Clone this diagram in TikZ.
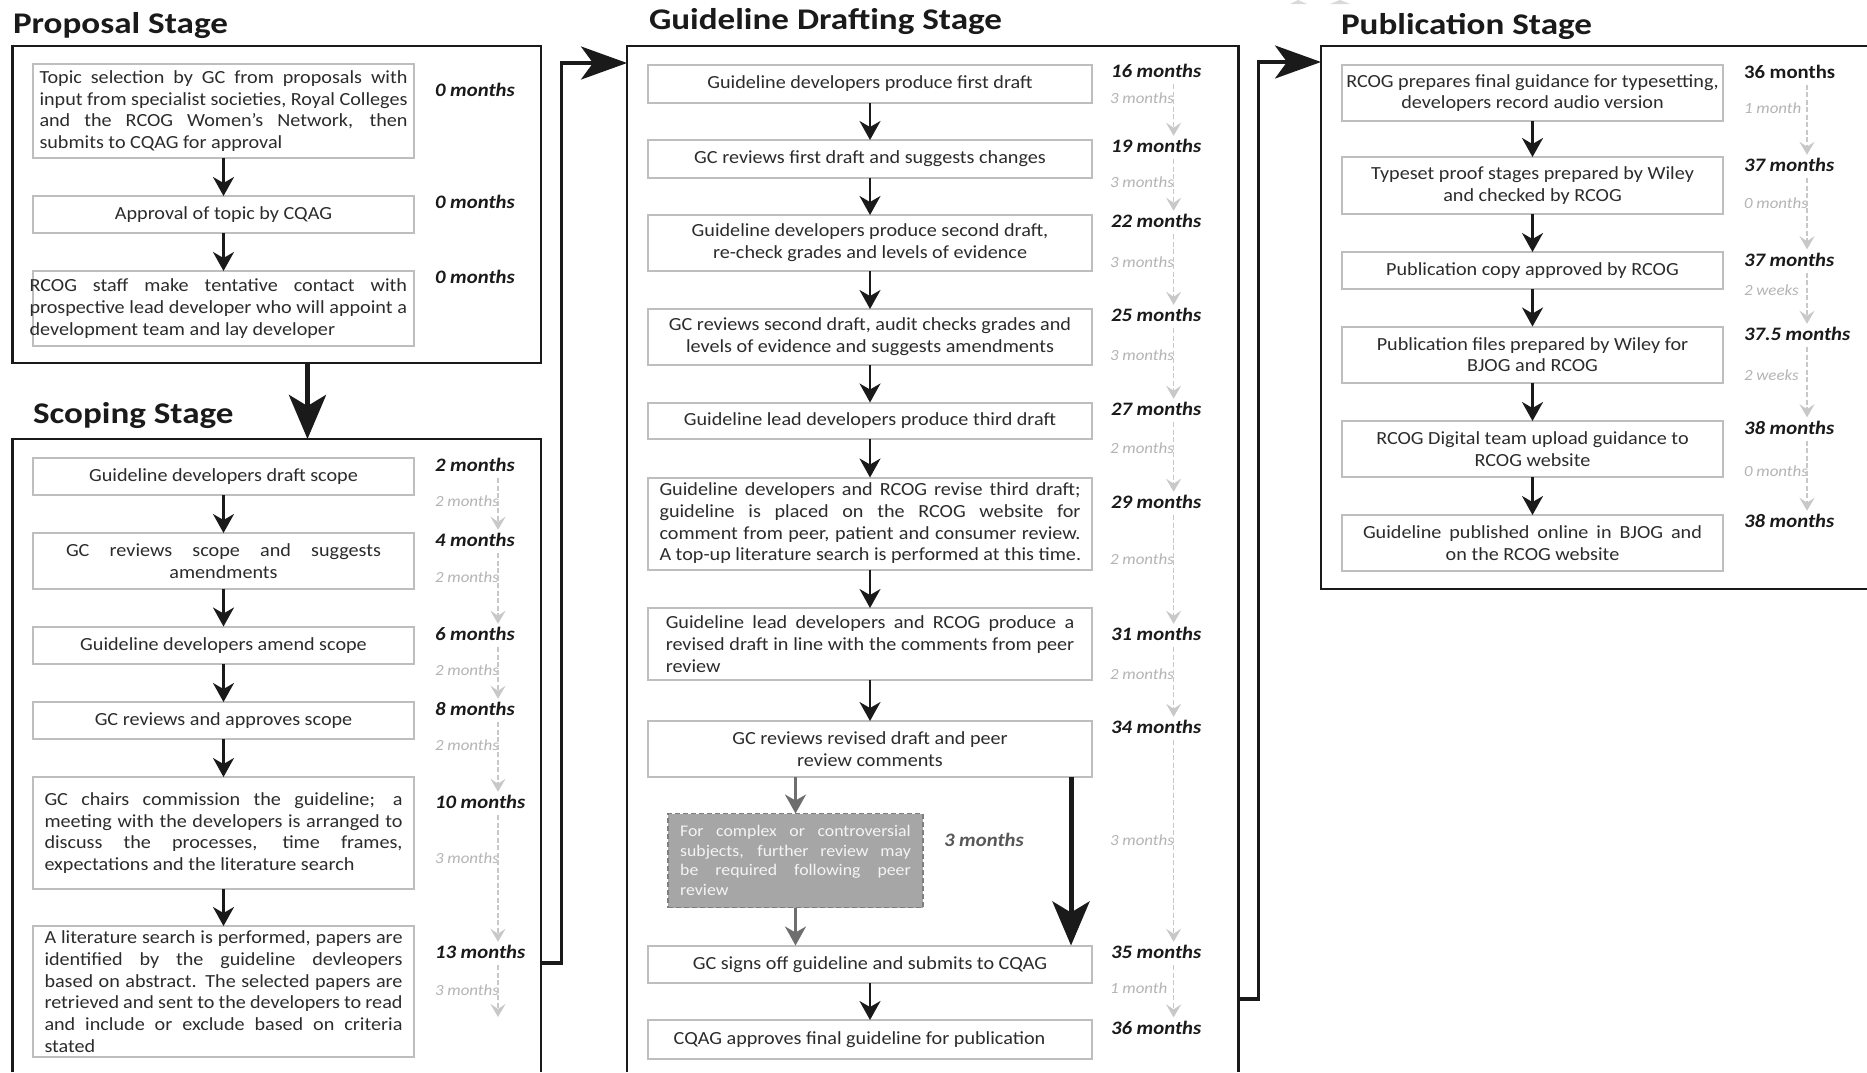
\documentclass[tikz,border=0pt]{standalone}
\usepackage{fontspec}
\setmainfont{Carlito}[FakeStretch=1.09]
\newfontfamily\titlefont{Carlito}[FakeStretch=1.17]
\usetikzlibrary{arrows.meta,calc}
\definecolor{boxline}{HTML}{BEBEBE}
\definecolor{txt}{HTML}{2C2C2C}
\definecolor{graylbl}{HTML}{B4B4B4}
\definecolor{dashc}{HTML}{C8C8C8}
\definecolor{greyfill}{HTML}{A6A6A6}
\definecolor{greyedge}{HTML}{7E7E7E}
\definecolor{greyarrow}{HTML}{6E6E6E}
\definecolor{greytext}{HTML}{F4F4F4}
\definecolor{midlbl}{HTML}{585858}
\definecolor{ink}{HTML}{1A1A1A}
\newcommand\jline[2]{\makebox[#1pt][s]{#2}}
\newcommand\lline[2]{\makebox[#1pt][l]{#2}}
\begin{document}
\begin{tikzpicture}[x=1pt,y=-1pt,
  every node/.style={inner sep=0pt,outer sep=0pt},
  bx/.style={draw=boxline,line width=2pt,fill=white,text=txt,align=center,
    font=\fontsize{18.5}{21.7}\selectfont},
  bxtext/.style={text=txt,align=center,font=\fontsize{18.5}{21.7}\selectfont},
  gbox/.style={draw=greyedge,line width=1.8pt,dash pattern=on 5pt off 3pt,fill=greyfill,
    text=greytext,align=center,font=\fontsize{16.3}{19.7}\selectfont},
  stagebox/.style={draw=ink,line width=2.6pt},
  stageline/.style={draw=ink,line width=2.6pt},
  ttl/.style={anchor=base west,text=ink,font=\titlefont\fontsize{30}{32}\selectfont\bfseries},
  mo/.style={anchor=west,text=ink,font=\fontsize{19}{22}\selectfont\bfseries\itshape},
  moup/.style={anchor=west,text=ink,font=\fontsize{19}{22}\selectfont\bfseries},
  gm/.style={anchor=west,text=graylbl,font=\fontsize{15.5}{17}\selectfont\itshape},
  arr/.style={draw=ink,line width=2.3pt,-{Stealth[length=19pt,width=21pt,inset=6pt]}},
  garr/.style={draw=greyarrow,line width=2.3pt,-{Stealth[length=19pt,width=21pt,inset=6pt]}},
  darr/.style={draw=dashc,line width=1.6pt,dash pattern=on 5pt off 2.5pt,
    -{Stealth[length=13pt,width=15pt,inset=5pt]}},
  bigarr/.style={draw=ink,line width=5pt,-{Stealth[length=44pt,width=37pt,inset=11pt]}},
  conn/.style={draw=ink,line width=3.5pt,-{Stealth[length=46pt,width=33pt,inset=12pt]}}
]
\useasboundingbox[fill=white] (0,0) rectangle (1867,1072);

% small artefact at the top
\fill[gray!30] (1290,4) -- (1298,0) -- (1307,4) -- cycle;
\fill[gray!30] (1330,4) -- (1340,0) -- (1350,4) -- cycle;

% ---------- stage frames and titles ----------
\node[stagebox,minimum width=528.5pt,minimum height=317pt] (prop) at (276.75,204.5) {};
\draw[stageline] (12.5,1072) -- (12.5,439) -- (541,439) -- (541,1072);
\draw[stageline] (627,1072) -- (627,46) -- (1238.5,46) -- (1238.5,1072);
\draw[stageline] (1867,46) -- (1321,46) -- (1321,589) -- (1867,589);

\node[ttl] (tprop) at (13,33) {Proposal Stage};
\node[ttl] (tscope) at (33,423) {Scoping Stage};
\node[ttl] (tdraft) at (649,29.5) {Guideline Drafting Stage};
\node[ttl] (tpub) at (1341,34) {Publication Stage};

% ---------- Proposal stage ----------
\node[bx,minimum width=381pt,minimum height=94pt] (p1) at (223.5,111)
  {\jline{368}{Topic selection by GC from proposals with}\\
   \jline{368}{input from specialist societies, Royal Colleges}\\
   \jline{368}{and the RCOG Women’s Network, then}\\
   \lline{368}{submits to CQAG for approval}};
\node[bx,minimum width=381pt,minimum height=37pt] (p2) at (223.5,214.5) {Approval of topic by CQAG};
\node[bx,minimum width=381pt,minimum height=75pt] (p3) at (223.5,308.5) {};
\node[bxtext] (p3t) at (218.3,308.5)
  {\jline{377.5}{RCOG staff make tentative contact with}\\
   \jline{377.5}{prospective lead developer who will appoint a}\\
   \lline{377.5}{development team and lay developer}};
\draw[arr] (p1) -- (p2);
\draw[arr] (p2) -- (p3);
\node[mo] (pm1) at (435,90) {0 months};
\node[mo] (pm2) at (435,202) {0 months};
\node[mo] (pm3) at (435,277) {0 months};

% ---------- Scoping stage ----------
\node[bx,minimum width=381pt,minimum height=37pt] (s1) at (223.5,476.5) {Guideline developers draft scope};
\node[bx,minimum width=381pt,minimum height=56pt] (s2) at (223.5,561)
  {\jline{315}{GC reviews scope and suggests}\\ amendments};
\node[bx,minimum width=381pt,minimum height=37.5pt] (s3) at (223.5,645.25) {Guideline developers amend scope};
\node[bx,minimum width=381pt,minimum height=37pt] (s4) at (223.5,720.5) {GC reviews and approves scope};
\node[bx,minimum width=381pt,minimum height=112pt] (s5) at (223.5,833)
  {\jline{358}{GC chairs commission the guideline; a}\\
   \jline{358}{meeting with the developers is arranged to}\\
   \jline{358}{discuss the processes, time frames,}\\
   \lline{358}{expectations and the literature search}};
\node[bx,minimum width=381pt,minimum height=131pt] (s6) at (223.5,991.5)
  {\jline{358}{A literature search is performed, papers are}\\
   \jline{358}{identified by the guideline devleopers}\\
   \jline{358}{based on abstract. The selected papers are}\\
   \jline{358}{retrieved and sent to the developers to read}\\
   \jline{358}{and include or exclude based on criteria}\\
   \lline{358}{stated}};
\draw[arr] (s1) -- (s2);
\draw[arr] (s2) -- (s3);
\draw[arr] (s3) -- (s4);
\draw[arr] (s4) -- (s5);
\draw[arr] (s5) -- (s6);

\node[mo] (sm1) at (435,465) {2 months};
\node[mo] (sm2) at (435,540) {4 months};
\node[mo] (sm3) at (435,634) {6 months};
\node[mo] (sm4) at (435,709) {8 months};
\node[mo] (sm5) at (435,802) {10 months};
\node[mo] (sm6) at (435,952) {13 months};
\node[gm] (sg1) at (435,501) {2 months};
\node[gm] (sg2) at (435,577) {2 months};
\node[gm] (sg3) at (435,670) {2 months};
\node[gm] (sg4) at (435,745) {2 months};
\node[gm] (sg5) at (435,858) {3 months};
\node[gm] (sg6) at (435,990) {3 months};
\coordinate (sx) at (498,0);
\coordinate (send) at (498,1017);
\foreach \a/\b in {sm1/sm2,sm2/sm3,sm3/sm4,sm4/sm5,sm5/sm6}
  \draw[darr] ($(\a.south -| sx)+(0,6.5)$) -- ($(\b.north -| sx)+(0,-3.5)$);
\draw[darr] ($(sm6.south -| sx)+(0,6.5)$) -- (send);

% ---------- Guideline drafting stage ----------
\node[bx,minimum width=444pt,minimum height=38pt] (d1) at (870,84) {Guideline developers produce first draft};
\node[bx,minimum width=444pt,minimum height=37.5pt] (d2) at (870,158.75) {GC reviews first draft and suggests changes};
\node[bx,minimum width=444pt,minimum height=56pt] (d3) at (870,243)
  {Guideline developers produce second draft,\\ re-check grades and levels of evidence};
\node[bx,minimum width=444pt,minimum height=56pt] (d4) at (870,337)
  {GC reviews second draft, audit checks grades and\\ levels of evidence and suggests amendments};
\node[bx,minimum width=444pt,minimum height=36pt] (d5) at (870,420.5) {Guideline lead developers produce third draft};
\node[bx,minimum width=444pt,minimum height=92pt] (d6) at (870,523.5)
  {\jline{421}{Guideline developers and RCOG revise third draft;}\\
   \jline{421}{guideline is placed on the RCOG website for}\\
   \jline{421}{comment from peer, patient and consumer review.}\\
   \lline{421}{A top-up literature search is performed at this time.}};
\node[bx,minimum width=444pt,minimum height=72pt] (d7) at (870,644)
  {\jline{408.5}{Guideline lead developers and RCOG produce a}\\
   \jline{408.5}{revised draft in line with the comments from peer}\\
   \lline{408.5}{review}};
\node[bx,minimum width=444pt,minimum height=56pt] (d8) at (870,749)
  {GC reviews revised draft and peer\\ review comments};
\node[gbox,minimum width=255pt,minimum height=94pt] (g) at (795.5,860.5)
  {\jline{230.6}{For complex or controversial}\\
   \jline{230.6}{subjects, further review may}\\
   \jline{230.6}{be required following peer}\\
   \lline{230.6}{review}};
\node[bx,minimum width=444pt,minimum height=37.5pt] (d9) at (870,964.25) {GC signs off guideline and submits to CQAG};
\node[bx,minimum width=444pt,minimum height=38.5pt] (d10) at (870,1039.25)
  {CQAG approves final guideline for publication\hspace*{21pt}};
\draw[arr] (d1) -- (d2);
\draw[arr] (d2) -- (d3);
\draw[arr] (d3) -- (d4);
\draw[arr] (d4) -- (d5);
\draw[arr] (d5) -- (d6);
\draw[arr] (d6) -- (d7);
\draw[arr] (d7) -- (d8);
\draw[garr] (d8.south -| g.north) -- (g.north);
\draw[garr] (g.south) -- (d9.north -| g.south);
\coordinate (bx) at (1071,850);
\draw[bigarr] (d8.south -| bx) -- (d9.north -| bx);
\draw[arr] (d9) -- (d10);
\node[mo,text=midlbl] (gm3) at (944,840) {3 months};

\node[mo] (dm1) at (1111,71) {16 months};
\node[mo] (dm2) at (1111,146) {19 months};
\node[mo] (dm3) at (1111,221) {22 months};
\node[mo] (dm4) at (1111,315) {25 months};
\node[mo] (dm5) at (1111,409) {27 months};
\node[mo] (dm6) at (1111,502) {29 months};
\node[mo] (dm7) at (1111,634) {31 months};
\node[mo] (dm8) at (1111,727) {34 months};
\node[mo] (dm9) at (1111,952) {35 months};
\node[mo] (dm10) at (1111,1027.6) {36 months};
\node[gm] (dg1) at (1110,98) {3 months};
\node[gm] (dg2) at (1110,182) {3 months};
\node[gm] (dg3) at (1110,262.5) {3 months};
\node[gm] (dg4) at (1110,355) {3 months};
\node[gm] (dg5) at (1110,448) {2 months};
\node[gm] (dg6) at (1110,558.7) {2 months};
\node[gm] (dg7) at (1110,674) {2 months};
\node[gm] (dg8) at (1110,840) {3 months};
\node[gm] (dg9) at (1110,988.6) {1 month};
\coordinate (dx) at (1173.6,0);
\foreach \a/\b in {dm1/dm2,dm2/dm3,dm3/dm4,dm4/dm5,dm5/dm6,dm6/dm7,dm7/dm8,dm8/dm9,dm9/dm10}
  \draw[darr] ($(\a.south -| dx)+(0,6.5)$) -- ($(\b.north -| dx)+(0,-3.5)$);

% ---------- Publication stage ----------
\node[bx,minimum width=381pt,minimum height=56pt] (q1) at (1532.5,93)
  {RCOG prepares final guidance for typesetting,\\ developers record audio version};
\node[bx,minimum width=381pt,minimum height=57pt] (q2) at (1532.5,185.5)
  {Typeset proof stages prepared by Wiley\\ and checked by RCOG};
\node[bx,minimum width=381pt,minimum height=37pt] (q3) at (1532.5,270.5) {Publication copy approved by RCOG};
\node[bx,minimum width=381pt,minimum height=56pt] (q4) at (1532.5,354.5)
  {Publication files prepared by Wiley for\\ BJOG and RCOG};
\node[bx,minimum width=381pt,minimum height=56pt] (q5) at (1532.5,449)
  {RCOG Digital team upload guidance to\\ RCOG website};
\node[bx,minimum width=381pt,minimum height=56pt] (q6) at (1532.5,543)
  {\jline{339}{Guideline published online in BJOG and}\\ on the RCOG website};
\draw[arr] (q1) -- (q2);
\draw[arr] (q2) -- (q3);
\draw[arr] (q3) -- (q4);
\draw[arr] (q4) -- (q5);
\draw[arr] (q5) -- (q6);

\node[moup] (qm1) at (1744,71.6) {36 months};
\node[mo] (qm2) at (1744,165) {37 months};
\node[mo] (qm3) at (1744,259.5) {37 months};
\node[mo] (qm4) at (1744,334) {37.5 months};
\node[mo] (qm5) at (1744,427.5) {38 months};
\node[mo] (qm6) at (1744,521) {38 months};
\node[gm] (qg1) at (1744,108) {1 month};
\node[gm] (qg2) at (1744,203) {0 months};
\node[gm] (qg3) at (1744,290) {2 weeks};
\node[gm] (qg4) at (1744,375) {2 weeks};
\node[gm] (qg5) at (1744,470.7) {0 months};
\coordinate (qx) at (1807,0);
\foreach \a/\b in {qm1/qm2,qm2/qm3,qm3/qm4,qm4/qm5,qm5/qm6}
  \draw[darr] ($(\a.south -| qx)+(0,6.5)$) -- ($(\b.north -| qx)+(0,-3.5)$);

% ---------- stage connectors ----------
\coordinate (sT) at (307.5,439);
\draw[bigarr] (prop.south -| sT) -- (sT);
\coordinate (sR) at (541,963);
\coordinate (dL) at (627,63);
\draw[conn] (sR) -- ++(20.5,0) |- (dL);
\coordinate (dR) at (1238.5,999);
\coordinate (qL) at (1321,62);
\draw[conn] (dR) -- ++(20,0) |- (qL);
\end{tikzpicture}
\end{document}
